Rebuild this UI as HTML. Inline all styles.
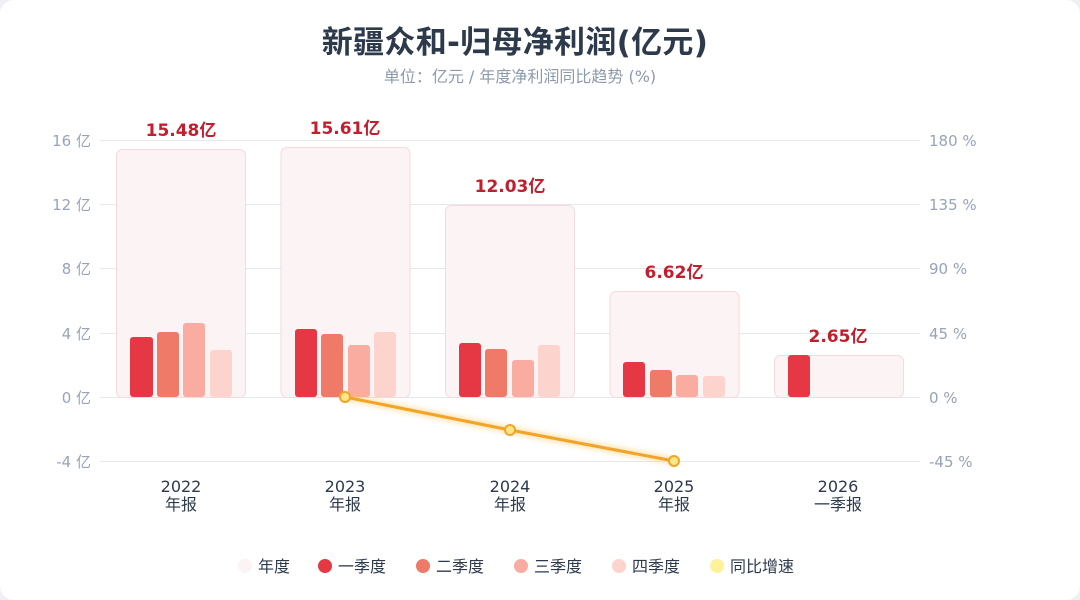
<!DOCTYPE html><html><head><meta charset="utf-8"><style>
html,body{margin:0;padding:0;background:#eef0f3;}
.card{width:1080px;height:600px;background:#fff;border-radius:14px;overflow:hidden;}
text{font-family:"DejaVu Sans","Noto Sans CJK SC",sans-serif;}
</style></head><body><div class="card">
<svg width="1080" height="600" viewBox="0 0 1080 600">
<defs><filter id="g" x="-20%" y="-50%" width="140%" height="200%"><feGaussianBlur stdDeviation="3"/></filter></defs>
<text x="515" y="53" text-anchor="middle" font-size="31" font-weight="bold" fill="#2d3a4b" letter-spacing="0.3">新疆众和-归母净利润(亿元)</text>
<text x="520" y="82" text-anchor="middle" font-size="16" fill="#8c9aae">单位：亿元 / 年度净利润同比趋势 (%)</text>
<g stroke="#e6e8ee" stroke-width="1">
<line x1="100" x2="920" y1="140.5" y2="140.5"/><line x1="100" x2="920" y1="204.5" y2="204.5"/><line x1="100" x2="920" y1="268.5" y2="268.5"/><line x1="100" x2="920" y1="333.5" y2="333.5"/><line x1="100" x2="920" y1="397.5" y2="397.5"/><line x1="100" x2="920" y1="461.5" y2="461.5"/></g>
<g font-size="15" fill="#97a3b6" text-anchor="end">
<text x="91" y="146">16 亿</text><text x="91" y="210">12 亿</text><text x="91" y="274">8 亿</text><text x="91" y="339">4 亿</text><text x="91" y="403">0 亿</text><text x="91" y="467">-4 亿</text></g>
<g font-size="15" fill="#97a3b6">
<text x="929" y="146">180 %</text><text x="929" y="210">135 %</text><text x="929" y="274">90 %</text><text x="929" y="339">45 %</text><text x="929" y="403">0 %</text><text x="929" y="467">-45 %</text></g>
<g fill="#fbf3f4" stroke="#f5dadd" stroke-width="1">
<rect x="116.5" y="149.5" width="129" height="248" rx="6"/>
<rect x="281" y="147.5" width="129" height="250" rx="6"/>
<rect x="445.5" y="205.5" width="129" height="192" rx="6"/>
<rect x="610" y="291.5" width="129" height="106" rx="6"/>
<rect x="774.5" y="355.5" width="129" height="42" rx="6"/></g>
<g>
<rect x="130" y="337" width="23" height="60" rx="3" fill="#e63744"/><rect x="157" y="332" width="22" height="65" rx="3" fill="#f07a68"/><rect x="183" y="323" width="22" height="74" rx="3" fill="#fbaca0"/><rect x="210" y="350" width="22" height="47" rx="3" fill="#fdd3cd"/>
<rect x="295" y="329" width="22" height="68" rx="3" fill="#e63744"/><rect x="321" y="334" width="22" height="63" rx="3" fill="#f07a68"/><rect x="348" y="345" width="22" height="52" rx="3" fill="#fbaca0"/><rect x="374" y="332" width="22" height="65" rx="3" fill="#fdd3cd"/>
<rect x="459" y="343" width="22" height="54" rx="3" fill="#e63744"/><rect x="485" y="349" width="22" height="48" rx="3" fill="#f07a68"/><rect x="512" y="360" width="22" height="37" rx="3" fill="#fbaca0"/><rect x="538" y="345" width="22" height="52" rx="3" fill="#fdd3cd"/>
<rect x="623" y="362" width="22" height="35" rx="3" fill="#e63744"/><rect x="650" y="370" width="22" height="27" rx="3" fill="#f07a68"/><rect x="676" y="375" width="22" height="22" rx="3" fill="#fbaca0"/><rect x="703" y="376" width="22" height="21" rx="3" fill="#fdd3cd"/>
<rect x="788" y="355" width="22" height="42" rx="3" fill="#e63744"/></g>
<g font-size="17" font-weight="bold" fill="#c0202e" text-anchor="middle">
<text x="181" y="136">15.48亿</text><text x="345" y="134">15.61亿</text><text x="510" y="192">12.03亿</text><text x="674" y="278">6.62亿</text><text x="838" y="342">2.65亿</text></g>
<polyline points="345,397 510,430 674,461" fill="none" stroke="#f7c04a" stroke-width="6" opacity="0.5" filter="url(#g)"/>
<polyline points="345,397 510,430 674,461" fill="none" stroke="#f2a42a" stroke-width="3"/>
<g fill="#fde68a" stroke="#f2a42a" stroke-width="2"><circle cx="345" cy="397" r="5"/><circle cx="510" cy="430" r="5"/><circle cx="674" cy="461" r="5"/></g>
<g font-size="16" fill="#2d3a4b" text-anchor="middle">
<text x="181" y="492">2022</text><text x="181" y="510">年报</text>
<text x="345" y="492">2023</text><text x="345" y="510">年报</text>
<text x="510" y="492">2024</text><text x="510" y="510">年报</text>
<text x="674" y="492">2025</text><text x="674" y="510">年报</text>
<text x="838" y="492">2026</text><text x="838" y="510">一季报</text></g>
<g font-size="16" fill="#2d3a4b">
<circle cx="245" cy="566" r="7" fill="#fbf3f4"/><text x="258" y="572">年度</text>
<circle cx="325" cy="566" r="7" fill="#e63744"/><text x="338" y="572">一季度</text>
<circle cx="423" cy="566" r="7" fill="#f07a68"/><text x="436" y="572">二季度</text>
<circle cx="521" cy="566" r="7" fill="#fbaca0"/><text x="534" y="572">三季度</text>
<circle cx="619" cy="566" r="7" fill="#fdd3cd"/><text x="632" y="572">四季度</text>
<circle cx="717" cy="566" r="7" fill="#fdf19a"/><text x="730" y="572">同比增速</text></g>
</svg></div></body></html>
